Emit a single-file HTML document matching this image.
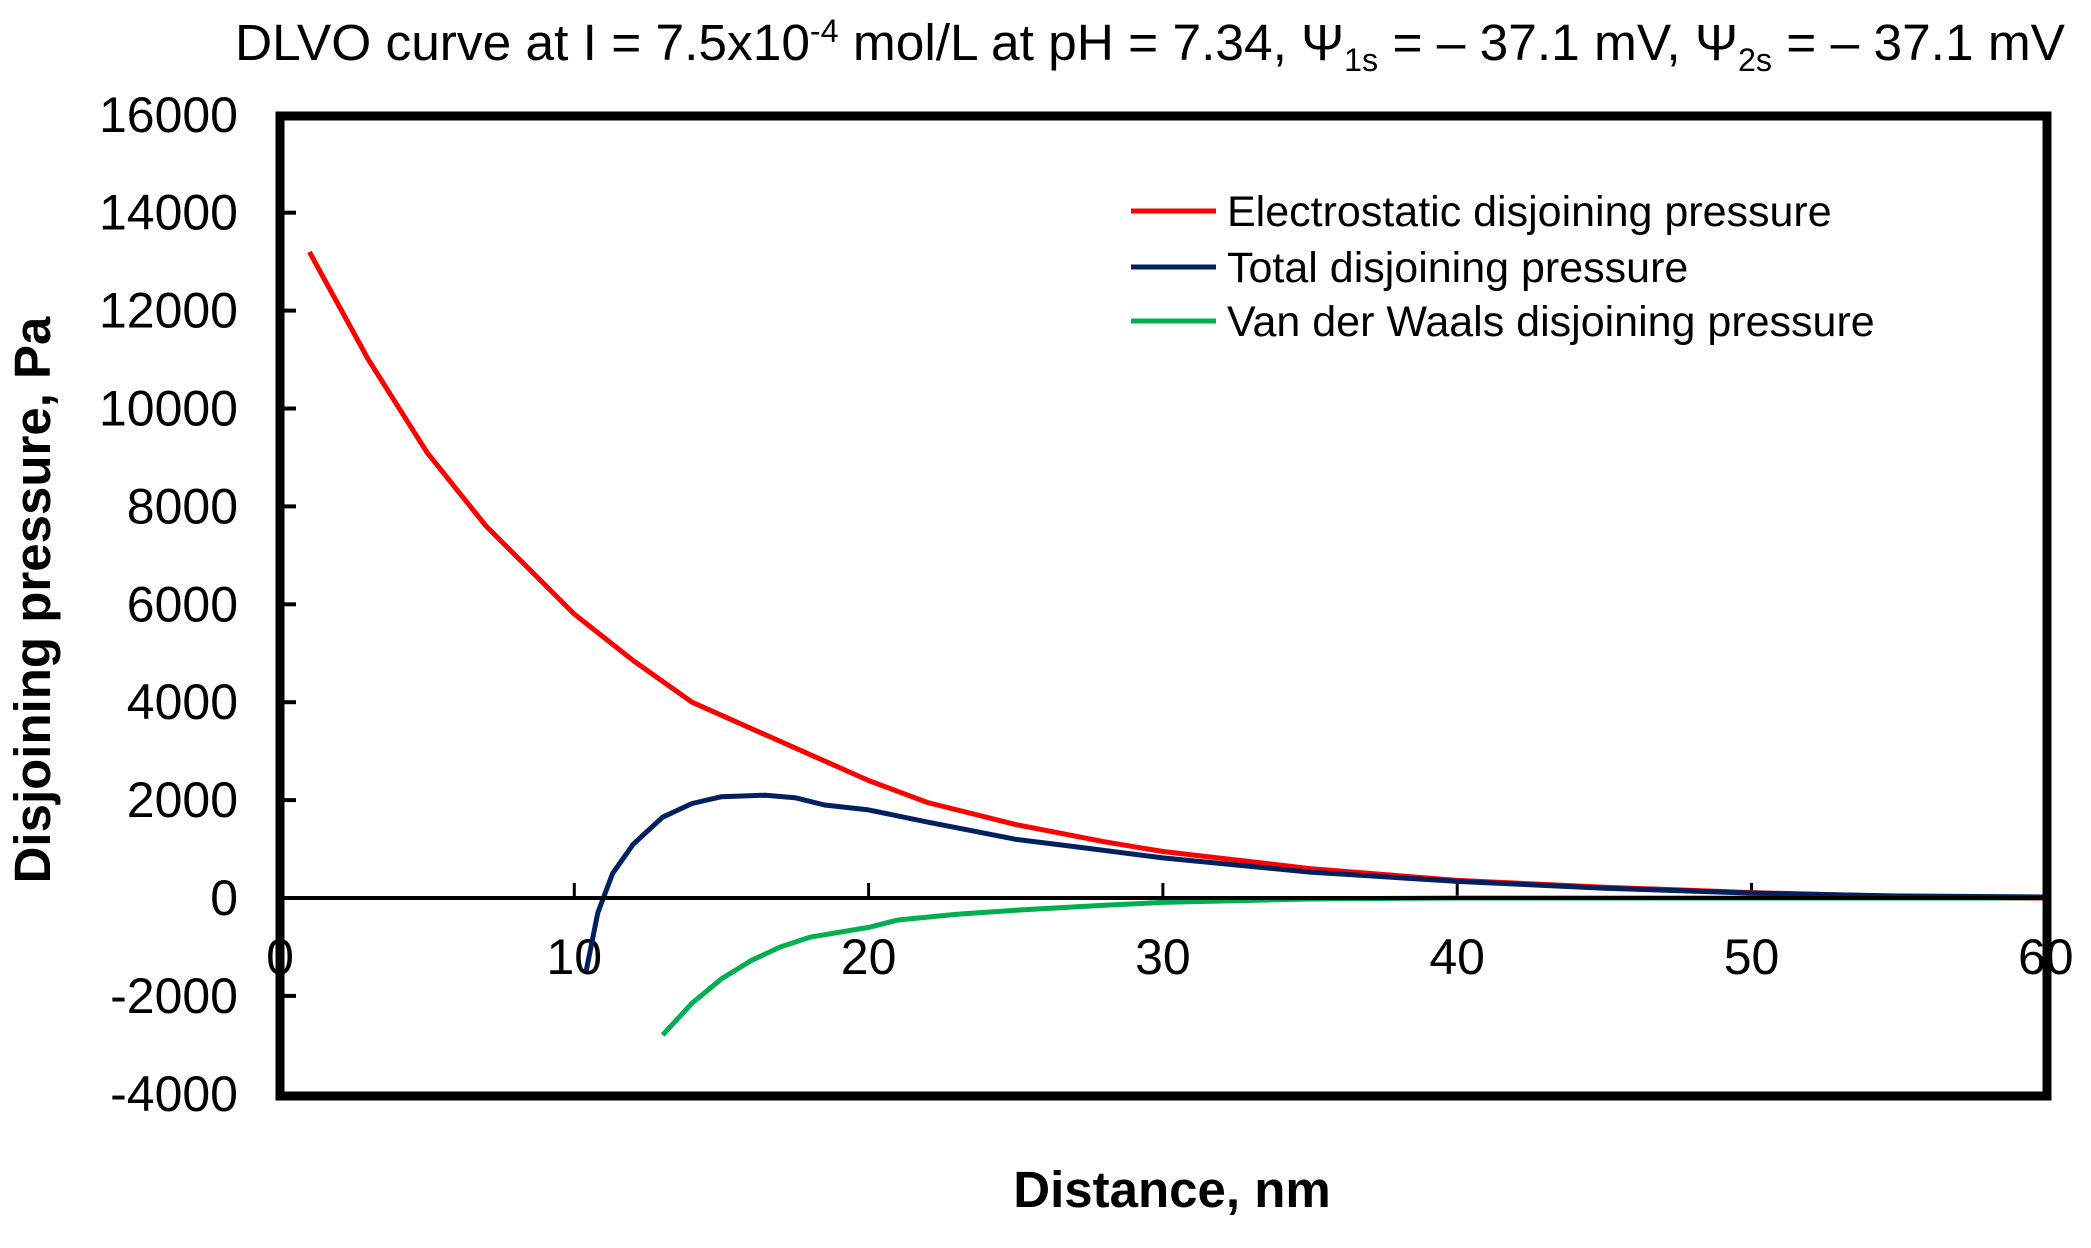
<!DOCTYPE html>
<html><head><meta charset="utf-8"><style>
html,body{margin:0;padding:0;background:#fff;}
svg{display:block;font-family:"Liberation Sans",Arial,sans-serif;}
</style></head><body>
<svg id="s" width="2091" height="1248" viewBox="0 0 2091 1248" xmlns="http://www.w3.org/2000/svg">
<text x="1150" y="60" font-size="51" text-anchor="middle" fill="#000" textLength="1830" lengthAdjust="spacingAndGlyphs">DLVO curve at I = 7.5x10<tspan font-size="32" dy="-18">-4</tspan><tspan dy="18"> mol/L at pH = 7.34, Ψ</tspan><tspan font-size="32" dy="11">1s</tspan><tspan dy="-11"> = – 37.1 mV, Ψ</tspan><tspan font-size="32" dy="11">2s</tspan><tspan dy="-11"> = – 37.1 mV</tspan></text>
<g id="g"></g>
<rect x="280" y="116" width="1767" height="980" fill="none" stroke="#000" stroke-width="9"/>
<line x1="280" y1="898" x2="2047" y2="898" stroke="#000" stroke-width="4"/>
<text transform="translate(50,600) rotate(-90)" font-size="51" font-weight="bold" text-anchor="middle">Disjoining pressure, Pa</text>
<text x="1172" y="1207" font-size="51" font-weight="bold" text-anchor="middle">Distance, nm</text>
<line x1="1131" y1="211" x2="1216" y2="211" stroke="#ff0000" stroke-width="5"/>
<line x1="1131" y1="267" x2="1216" y2="267" stroke="#002060" stroke-width="5"/>
<line x1="1131" y1="321" x2="1216" y2="321" stroke="#00b050" stroke-width="5"/>
<g font-size="43">
<text x="1227" y="226">Electrostatic disjoining pressure</text>
<text x="1227" y="282">Total disjoining pressure</text>
<text x="1227" y="336">Van der Waals disjoining pressure</text>
</g>
</svg>
<script>
var X=function(v){return 280+v*29.43;},Y=function(v){return 898-v*0.04895;};
var g=document.getElementById('g'),h='';
for(var t=-4000;t<=16000;t+=2000){var y=Y(t);h+='<text x="238" y="'+(y+17)+'" font-size="50" text-anchor="end">'+t+'</text>';if(t>-4000&&t<16000)h+='<line x1="280" y1="'+y+'" x2="296" y2="'+y+'" stroke="#000" stroke-width="4"/>';}
for(var t=0;t<=60;t+=10){var x=X(t);h+='<text x="'+x+'" y="974" font-size="50" text-anchor="middle">'+t+'</text>';if(t>0&&t<60)h+='<line x1="'+x+'" y1="883" x2="'+x+'" y2="898" stroke="#000" stroke-width="3"/>';}
function pl(d,c){return '<polyline fill="none" stroke="'+c+'" stroke-width="5" stroke-linejoin="round" points="'+d.map(function(p){return X(p[0]).toFixed(1)+','+Y(p[1]).toFixed(1)}).join(' ')+'"/>';}
var green=[[13,-2800],[14,-2150],[15,-1650],[16,-1280],[17,-1000],[18,-800],[20,-600],[21,-450],[23,-330],[25,-250],[28,-150],[30,-90],[35,-20],[40,0],[60,0]];
var red=[[1,13200],[3,11000],[5,9100],[7,7600],[10,5800],[12,4850],[14,4000],[17,3200],[20,2400],[22,1950],[25,1500],[28,1150],[30,950],[35,600],[40,360],[45,220],[50,110],[55,30],[60,0]];
var blue=[[10.4,-1500],[10.8,-300],[11.3,500],[12,1100],[13,1650],[14,1930],[15,2070],[16.5,2100],[17.5,2050],[18.5,1900],[20,1800],[22,1550],[25,1200],[27,1050],[30,820],[35,530],[40,340],[45,200],[50,100],[55,40],[60,20]];
h+=pl(green,'#00b050')+pl(red,'#ff0000')+pl(blue,'#002060');
g.innerHTML=h;
</script>
</body></html>
